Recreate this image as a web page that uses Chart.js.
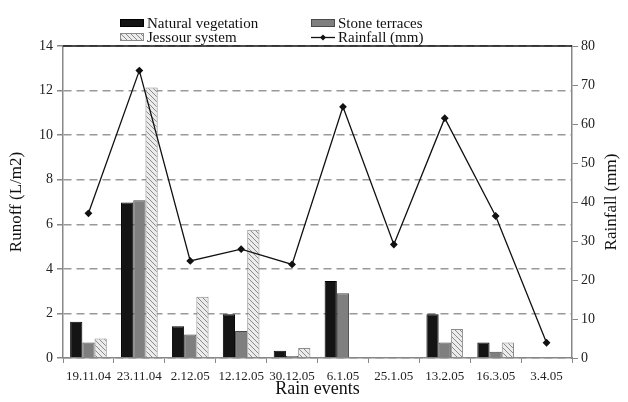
<!DOCTYPE html>
<html>
<head>
<meta charset="utf-8">
<script src="https://cdn.jsdelivr.net/npm/chart.js@4"></script>
<style>
  body { margin: 0; background: #fff; }
  #wrap { position: relative; width: 628px; height: 402px; }
  #legend { position: absolute; left: 0; top: 0; width: 628px; height: 46px;
    font-family: "Liberation Serif", "DejaVu Serif", serif; font-size: 15px; color: #111; }
  .item { position: absolute; height: 15px; line-height: 15px; white-space: nowrap; }
  .box { position: absolute; left: 0; top: 3px; width: 24px; height: 8px; box-sizing: border-box; }
  .item span { position: absolute; left: 27px; top: 0; }
</style>
</head>
<body>
<div id="wrap">
  <canvas id="myChart" width="628" height="402"></canvas>
  <div id="legend"></div>
</div>
<script>
let rainEvents = ['19.11.04', '23.11.04', '2.12.05', '12.12.05', '30.12.05', '6.1.05', '25.1.05', '13.2.05', '16.3.05', '3.4.05'];
let naturalVeg = [1.63, 6.98, 1.42, 1.96, 0.33, 3.45, null, 1.96, 0.69, null];
let stoneTerraces = [0.69, 7.08, 1.06, 1.21, 0.09, 2.9, null, 0.69, 0.28, null];
let jessour = [0.88, 12.14, 2.75, 5.75, 0.45, null, null, 1.3, 0.69, null];
let rainfall = [37.1, 73.7, 24.9, 27.9, 24.0, 64.4, 29.1, 61.5, 36.4, 3.9];

const serif = '"Liberation Serif", "DejaVu Serif", serif';
const myChart = document.getElementById('myChart');
const legendBox = document.getElementById('legend');

// diagonal hatch for the jessour bars
function makeHatch() {
    let c = document.createElement('canvas');
    c.width = 5;
    c.height = 5;
    let ctx = c.getContext('2d');
    ctx.fillStyle = '#ececec';
    ctx.fillRect(0, 0, 5, 5);
    ctx.strokeStyle = '#8a8a8a';
    ctx.lineWidth = 1;
    ctx.beginPath();
    ctx.moveTo(-1, -1); ctx.lineTo(6, 6);
    ctx.moveTo(-1, 4); ctx.lineTo(1, 6);
    ctx.moveTo(4, -1); ctx.lineTo(6, 1);
    ctx.stroke();
    return c;
}
const hatchCanvas = makeHatch();
const hatch = myChart.getContext('2d').createPattern(hatchCanvas, 'repeat');

function sideTitle(ctx, text, x, y) {
    ctx.save();
    ctx.translate(x, y);
    ctx.rotate(-Math.PI / 2);
    ctx.fillStyle = '#111';
    ctx.font = '17px ' + serif;
    ctx.textAlign = 'center';
    ctx.textBaseline = 'middle';
    ctx.fillText(text, 0, 0);
    ctx.restore();
}

// black line along the top of the plot area + both side titles read bottom to top
const extras = {
    id: 'extras',
    afterDraw(chart) {
        let a = chart.chartArea;
        let ctx = chart.ctx;
        ctx.save();
        ctx.strokeStyle = '#111';
        ctx.lineWidth = 1.5;
        ctx.beginPath();
        ctx.moveTo(a.left, a.top);
        ctx.lineTo(a.right, a.top);
        ctx.stroke();
        ctx.restore();

        let mid = (a.top + a.bottom) / 2;
        sideTitle(ctx, 'Runoff (L/m2)', 17, mid);
        sideTitle(ctx, 'Rainfall (mm)', 612, mid);
    }
};

let chart = new Chart(myChart, {
    data: {
        labels: rainEvents,
        datasets: [{
            type: 'bar',
            label: 'Natural vegetation',
            data: naturalVeg,
            backgroundColor: '#141414',
            borderColor: '#000',
            borderWidth: 1,
            yAxisID: 'y',
            order: 1,
            categoryPercentage: 0.72,
            barPercentage: 1
        }, {
            type: 'bar',
            label: 'Stone terraces',
            data: stoneTerraces,
            backgroundColor: '#7f7f7f',
            borderColor: '#4a4a4a',
            borderWidth: 1,
            yAxisID: 'y',
            order: 1,
            categoryPercentage: 0.72,
            barPercentage: 1
        }, {
            type: 'bar',
            label: 'Jessour system',
            data: jessour,
            backgroundColor: hatch,
            borderColor: '#8a8a8a',
            borderWidth: 1,
            yAxisID: 'y',
            order: 1,
            categoryPercentage: 0.72,
            barPercentage: 1
        }, {
            type: 'line',
            label: 'Rainfall (mm)',
            data: rainfall,
            borderColor: '#111',
            borderWidth: 1.3,
            pointStyle: 'rectRot',
            pointRadius: 3,
            pointBackgroundColor: '#111',
            pointBorderColor: '#111',
            yAxisID: 'y1',
            order: 0,
            tension: 0
        }]
    },
    options: {
        responsive: false,
        animation: false,
        layout: { padding: { top: 46, right: 0, bottom: 0, left: 0 } },
        plugins: {
            legend: { display: false },
            tooltip: { enabled: false }
        },
        scales: {
            x: {
                offset: true,
                grid: { display: true, drawOnChartArea: false, offset: true, color: '#888', tickLength: 5 },
                border: { color: '#888', width: 1.5 },
                ticks: { color: '#222', font: { family: serif, size: 13 }, maxRotation: 0, autoSkip: false, padding: 6 },
                title: { display: true, text: 'Rain events', color: '#111', font: { family: serif, size: 18 }, padding: { top: 0, bottom: 2 } },
                afterFit(s) { s.height = 44; }
            },
            y: {
                position: 'left',
                min: 0,
                max: 14,
                ticks: { stepSize: 2, color: '#222', font: { family: serif, size: 14 }, padding: 4 },
                grid: { color: '#999', lineWidth: 1.5, tickLength: 6, tickColor: '#888' },
                border: { color: '#888', width: 1.5, dash: [8, 5] },
                afterFit(s) { s.width = 63; }
            },
            y1: {
                position: 'right',
                min: 0,
                max: 80,
                ticks: { stepSize: 10, color: '#222', font: { family: serif, size: 14 }, padding: 3 },
                grid: { drawOnChartArea: false, color: '#888', tickLength: 6 },
                border: { color: '#888', width: 1.5 },
                afterFit(s) { s.width = 56; }
            }
        }
    },
    plugins: [extras]
});

// two-column legend above the plot
let legendItems = [
    { text: 'Natural vegetation', x: 120, y: 16, kind: 'box', bg: '#141414', border: '#000' },
    { text: 'Stone terraces', x: 311, y: 16, kind: 'box', bg: '#7f7f7f', border: '#4a4a4a' },
    { text: 'Jessour system', x: 120, y: 30, kind: 'hatch', border: '#8a8a8a' },
    { text: 'Rainfall (mm)', x: 311, y: 30, kind: 'line' }
];

legendItems.forEach(item => {
    let div = document.createElement('div');
    div.className = 'item';
    div.style.left = item.x + 'px';
    div.style.top = item.y + 'px';
    if (item.kind === 'line') {
        let c = document.createElement('canvas');
        c.width = 24;
        c.height = 15;
        c.style.position = 'absolute';
        c.style.left = '0px';
        c.style.top = '0px';
        let ctx = c.getContext('2d');
        ctx.strokeStyle = '#111';
        ctx.lineWidth = 1.3;
        ctx.beginPath();
        ctx.moveTo(0, 7.5);
        ctx.lineTo(24, 7.5);
        ctx.stroke();
        ctx.fillStyle = '#111';
        ctx.beginPath();
        ctx.moveTo(12, 4.5); ctx.lineTo(15, 7.5); ctx.lineTo(12, 10.5); ctx.lineTo(9, 7.5);
        ctx.closePath();
        ctx.fill();
        div.appendChild(c);
    } else {
        let box = document.createElement('div');
        box.className = 'box';
        box.style.border = '1px solid ' + item.border;
        if (item.kind === 'hatch') {
            box.style.backgroundImage = 'url(' + hatchCanvas.toDataURL() + ')';
        } else {
            box.style.background = item.bg;
        }
        div.appendChild(box);
    }
    let label = document.createElement('span');
    label.innerText = item.text;
    div.appendChild(label);
    legendBox.appendChild(div);
});
</script>
</body>
</html>
